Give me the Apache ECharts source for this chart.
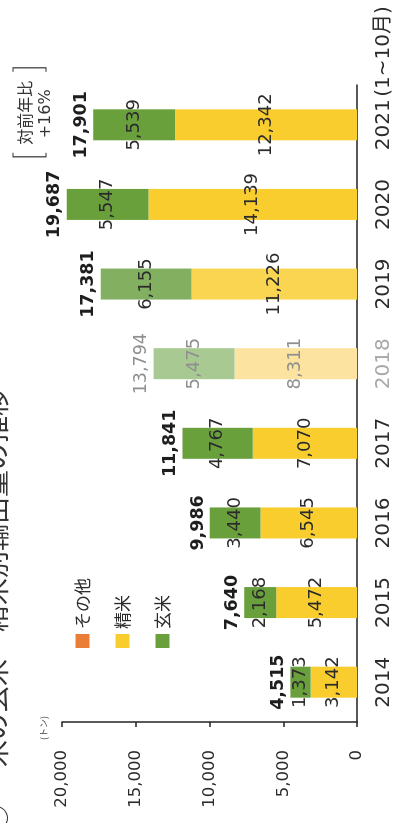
<!DOCTYPE html>
<html>
<head>
<meta charset="utf-8">
<script src="https://cdn.jsdelivr.net/npm/echarts@6/dist/echarts.min.js"></script>
<style>
  html, body { margin: 0; padding: 0; background: #fff; overflow: hidden; }
  /* the figure is laid out landscape and turned a quarter turn counter-clockwise */
  #turn {
    position: absolute; left: 0; top: 0;
    width: 823px; height: 408px;
    transform-origin: 0 0;
    transform: translate(0, 823px) rotate(-90deg);
  }
  #chart { width: 823px; height: 408px; }
</style>
</head>
<body>
<div id="turn"><div id="chart"></div></div>
<script>
// 米の玄米・精米別輸出量 (トン)
const years = ['2014', '2015', '2016', '2017', '2018', '2019', '2020', '2021'];
const seimai = [3142, 5472, 6545, 7070, 8311, 11226, 14139, 12342];   // 精米
const genmai = [1373, 2168, 3440, 4767, 5475, 6155, 5547, 5539];      // 玄米
const sonota = [0, 0, 1, 4, 8, 0, 1, 20];                             // その他
const valueTicks = [0, 5000, 10000, 15000, 20000];
const lastYearNote = '(1~10月)';
const yoyNote = ['対前年比', '+16%'];

const totals = years.map((_, i) => seimai[i] + genmai[i] + sonota[i]);

const FONT = '"DejaVu Sans", "Noto Sans CJK JP", sans-serif';
const CJK = '"Noto Sans CJK JP", sans-serif';
const INK = '#2b2b2b';
const YELLOW = '#F9CD2E', GREEN = '#69A03C', ORANGE = '#EA7E36';
const FADED = 4;        // 2018 column printed washed out
const SOFT = 5;         // 2019 column slightly lighter
const fmt = v => Number(v).toLocaleString('en-US');

function yellowAt(i) { return i === FADED ? '#FCE4A0' : i === SOFT ? '#F9D552' : YELLOW; }
function greenAt(i) { return i === FADED ? '#A8C991' : i === SOFT ? '#82AF60' : GREEN; }
const greyLabel = { color: '#8f8f8f' };

const chart = echarts.init(document.getElementById('chart'), null, { width: 823, height: 408 });

const option = {
  animation: false,
  backgroundColor: '#fff',
  textStyle: { fontFamily: FONT },
  grid: { left: 101, right: 85, top: 62, bottom: 51 },
  legend: {
    orient: 'vertical',
    left: 170, top: 69,
    icon: 'rect',
    itemWidth: 14, itemHeight: 14, itemGap: 23,
    data: ['その他', '精米', '玄米'],
    textStyle: { fontFamily: CJK, fontSize: 17, lineHeight: 17, color: INK }
  },
  xAxis: {
    type: 'category',
    data: years.map((y, i) => i === FADED ? { value: y, textStyle: { color: '#a8a8a8' } } : y),
    axisLine: { lineStyle: { color: '#222', width: 1.5 } },
    axisTick: { show: false },
    axisLabel: { fontSize: 20, margin: 17, color: INK, fontFamily: FONT }
  },
  yAxis: {
    type: 'value',
    min: valueTicks[0],
    max: valueTicks[valueTicks.length - 1],
    interval: valueTicks[1] - valueTicks[0],
    name: '(トン)',
    nameLocation: 'end',
    nameGap: 14,
    nameTextStyle: { fontFamily: CJK, fontSize: 9, color: '#444', align: 'center', padding: [0, 12, 0, 0] },
    axisLine: { show: true, lineStyle: { color: '#222', width: 1.5 } },
    axisTick: { show: true, length: 5, lineStyle: { color: '#222', width: 1.5 } },
    splitLine: { show: false },
    axisLabel: { fontSize: 16.5, margin: 28, color: INK, fontFamily: FONT, formatter: v => fmt(v) }
  },
  series: [
    {
      name: '精米', type: 'bar', stack: 'rice', barWidth: 31,
      itemStyle: { color: YELLOW },
      label: { show: true, position: 'inside', fontSize: 18, color: INK, fontFamily: FONT, formatter: p => fmt(p.value) },
      data: seimai.map((v, i) => ({
        value: v, itemStyle: { color: yellowAt(i) }, label: i === FADED ? greyLabel : {}
      }))
    },
    {
      name: '玄米', type: 'bar', stack: 'rice', barWidth: 31,
      itemStyle: { color: GREEN },
      label: { show: true, position: 'inside', fontSize: 18, color: INK, fontFamily: FONT, formatter: p => fmt(p.value) },
      data: genmai.map((v, i) => ({
        value: v, itemStyle: { color: greenAt(i) }, label: i === FADED ? greyLabel : {}
      }))
    },
    {
      name: 'その他', type: 'bar', stack: 'rice', barWidth: 31,
      itemStyle: { color: ORANGE },
      label: {
        show: true, position: 'top', distance: 3,
        fontSize: 17.5, fontWeight: 'bold', color: '#1e1e1e', fontFamily: FONT,
        formatter: p => fmt(totals[p.dataIndex])
      },
      data: sonota.map((v, i) => ({
        value: v,
        label: i === FADED ? { color: '#8f8f8f', fontWeight: 'normal' } : {}
      }))
    }
  ]
};

chart.setOption(option);

// extra text anchored to the last category and to the axes
const lastX = chart.convertToPixel({ xAxisIndex: 0 }, years[years.length - 1]);
const baseY = chart.convertToPixel({ yAxisIndex: 0 }, valueTicks[0]);

chart.setOption({
  graphic: [
    {
      type: 'text', x: lastX + 28, y: baseY + 17,
      style: { text: lastYearNote, font: '20px ' + FONT, fill: INK, textAlign: 'left', textVerticalAlign: 'top' }
    },
    {
      type: 'text', x: lastX + 12, y: 25,
      style: { text: yoyNote[0], font: '16px ' + CJK, fill: '#333', textAlign: 'center', textVerticalAlign: 'middle' }
    },
    {
      type: 'text', x: lastX + 11, y: 45.5,
      style: { text: yoyNote[1], font: '16px ' + FONT, fill: '#333', textAlign: 'center', textVerticalAlign: 'middle' }
    },
    {
      type: 'polyline',
      shape: { points: [[lastX - 28, 13], [lastX - 32, 13], [lastX - 32, 46], [lastX - 28, 46]] },
      style: { stroke: '#333', lineWidth: 1.2, fill: null }
    },
    {
      type: 'polyline',
      shape: { points: [[lastX + 53, 13], [lastX + 57, 13], [lastX + 57, 46], [lastX + 53, 46]] },
      style: { stroke: '#333', lineWidth: 1.2, fill: null }
    },
    // figure heading, running off the top edge
    {
      type: 'text', x: 5, y: -4,
      style: { text: '○', font: '27px ' + CJK, fill: '#333', textAlign: 'center', textVerticalAlign: 'middle' }
    },
    {
      type: 'text', x: 56, y: -4,
      style: { text: '米の玄米・精米別輸出量の推移', font: '27px ' + CJK, fill: '#333', textAlign: 'left', textVerticalAlign: 'middle' }
    }
  ]
});
</script>
</body>
</html>
